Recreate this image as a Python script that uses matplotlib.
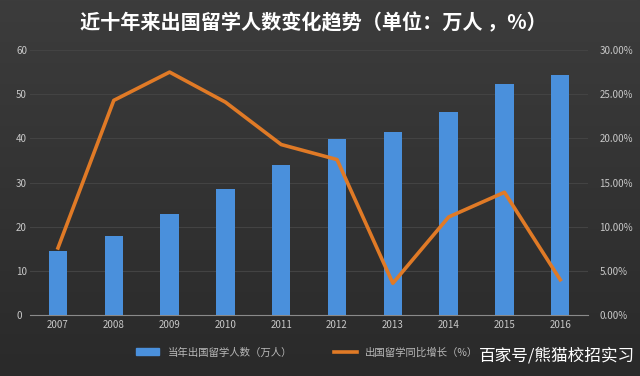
import numpy as np
import matplotlib.pyplot as plt
from matplotlib.patches import Patch
from matplotlib.lines import Line2D

plt.rcParams['font.family'] = ['Noto Sans CJK SC', 'DejaVu Sans']

years = ['2007', '2008', '2009', '2010', '2011', '2012', '2013', '2014', '2015', '2016']
students = [14.4, 17.98, 22.93, 28.47, 33.97, 39.96, 41.39, 45.98, 52.37, 54.45]
growth = [7.6, 24.3, 27.5, 24.1, 19.3, 17.6, 3.6, 11.1, 13.9, 4.0]

fig = plt.figure(figsize=(6.4, 3.76), dpi=100)
# dark gradient background
grad = np.linspace(0, 1, 256).reshape(-1, 1)
bg_ax = fig.add_axes([0, 0, 1, 1])
bg_ax.imshow(grad, aspect='auto', cmap=plt.matplotlib.colors.LinearSegmentedColormap.from_list(
    'g', ['#3c3c3c', '#2a2a2a']), extent=[0, 1, 0, 1])
bg_ax.axis('off')

ax = fig.add_axes([0.047, 0.162, 0.872, 0.705])
ax.patch.set_alpha(0)
x = np.arange(len(years))
ax.bar(x, students, width=0.33, color='#4a90dc', zorder=3)
ax.set_xlim(-0.5, 9.5)
ax.set_ylim(0, 60)
ax.set_yticks(range(0, 61, 10))
ax.set_xticks(x)
ax.set_xticklabels(years)
ax.grid(axis='y', color='#434343', linewidth=0.8, zorder=0)
for s in ['top', 'right', 'left']:
    ax.spines[s].set_visible(False)
ax.spines['bottom'].set_color('#8a8a8a')
ax.tick_params(colors='#c8c8c8', labelsize=7, length=0)
ax.tick_params(axis='y', pad=-2)
for lab in ax.get_yticklabels():
    lab.set_horizontalalignment('left')
    lab.set_x(-0.03)

ax2 = ax.twinx()
ax2.plot(x, growth, color='#e07a26', linewidth=2.6, zorder=4)
ax2.set_ylim(0, 30)
ax2.set_yticks(range(0, 31, 5))
ax2.set_yticklabels(['%.2f%%' % v for v in range(0, 31, 5)])
for s in ax2.spines.values():
    s.set_visible(False)
ax2.tick_params(colors='#c8c8c8', labelsize=7, length=0, pad=8)

fig.text(0.49, 0.94, '近十年来出国留学人数变化趋势（单位：万人 ，%）', color='white',
         fontsize=14.5, fontweight='bold', ha='center', va='center')

handles = [Patch(color='#4a90dc'), Line2D([0], [0], color='#e07a26', linewidth=2.6)]
fig.legend(handles, ['当年出国留学人数（万人）', '出国留学同比增长（%）'], loc='center',
           bbox_to_anchor=(0.48, 0.063), ncol=2, frameon=False, fontsize=7.5,
           labelcolor='#b8b8b8', handlelength=2.2, columnspacing=4)

fig.text(0.992, 0.052, '百家号/熊猫校招实习', color='white', fontsize=12,
         ha='right', va='center')

fig.savefig('out.png', dpi=100)
